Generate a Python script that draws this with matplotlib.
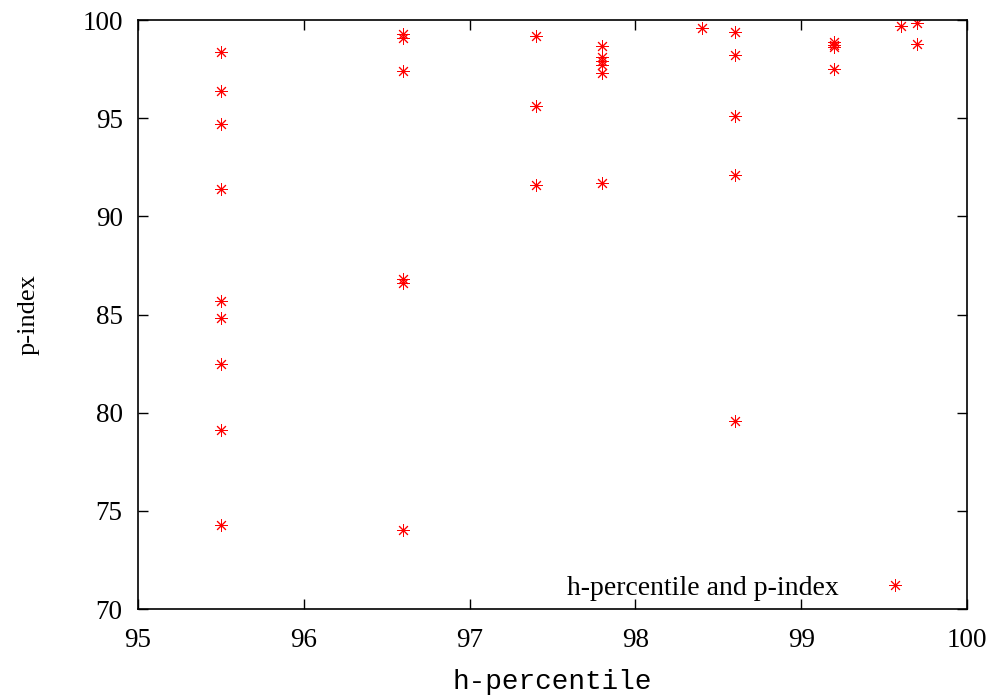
import numpy as np
import matplotlib
matplotlib.use("Agg")
import matplotlib.pyplot as plt

# h-percentile (x) vs p-index (y)
h_pct = [95.5, 95.5, 95.5, 95.5, 95.5, 95.5, 95.5, 95.5, 95.5,
         96.6, 96.6, 96.6, 96.6, 96.6, 96.6,
         97.4, 97.4, 97.4,
         97.8, 97.8, 97.8, 97.8, 97.8, 97.8,
         98.4,
         98.6, 98.6, 98.6, 98.6, 98.6,
         99.2, 99.2, 99.2, 99.2,
         99.6,
         99.7, 99.7]
p_idx = [98.35, 96.4, 94.7, 91.4, 85.7, 84.8, 82.5, 79.1, 74.3,
         99.3, 99.1, 97.4, 86.8, 86.6, 74.0,
         99.2, 95.6, 91.6,
         98.7, 98.1, 97.9, 97.7, 97.3, 91.7,
         99.6,
         99.4, 98.2, 95.1, 92.1, 79.6,
         98.9, 98.75, 98.6, 97.5,
         99.7,
         99.85, 98.8]

serif = "Liberation Serif"
mono = "Liberation Mono"

fig = plt.figure(figsize=(9.97, 6.98), dpi=100, facecolor='w')
ax = fig.add_axes([138/997, 1-609/698, (967-138)/997, (609-20)/698])

ax.plot(h_pct, p_idx, linestyle='none', marker=(8, 2, 0), ms=9, mew=0.7,
        color='red', label='h-percentile and p-index')

ax.set_xlim(95, 100)
ax.set_ylim(70, 100)
ax.set_xticks(np.arange(95, 100.1, 1))
ax.set_yticks(np.arange(70, 100.1, 5))
ax.tick_params(direction='in', length=7, width=1, top=True, right=True,
               labelsize=19.5)
ax.tick_params(axis='x', pad=14)
ax.tick_params(axis='y', pad=11)
for lab in ax.get_xticklabels() + ax.get_yticklabels():
    lab.set_family(serif)
for sp in ax.spines.values():
    sp.set_linewidth(1.2)

ax.set_xlabel('h-percentile', fontsize=20, family=mono, labelpad=11)
ax.set_ylabel('p-index', fontsize=19, family=serif, labelpad=31)

leg = ax.legend(loc='lower right', frameon=False, markerfirst=False,
                prop={'family': serif, 'size': 20}, handletextpad=1.05,
                handlelength=2.0, borderpad=0, borderaxespad=0,
                bbox_to_anchor=(0.947, 0.0136))

fig.savefig('out.png', dpi=100)
